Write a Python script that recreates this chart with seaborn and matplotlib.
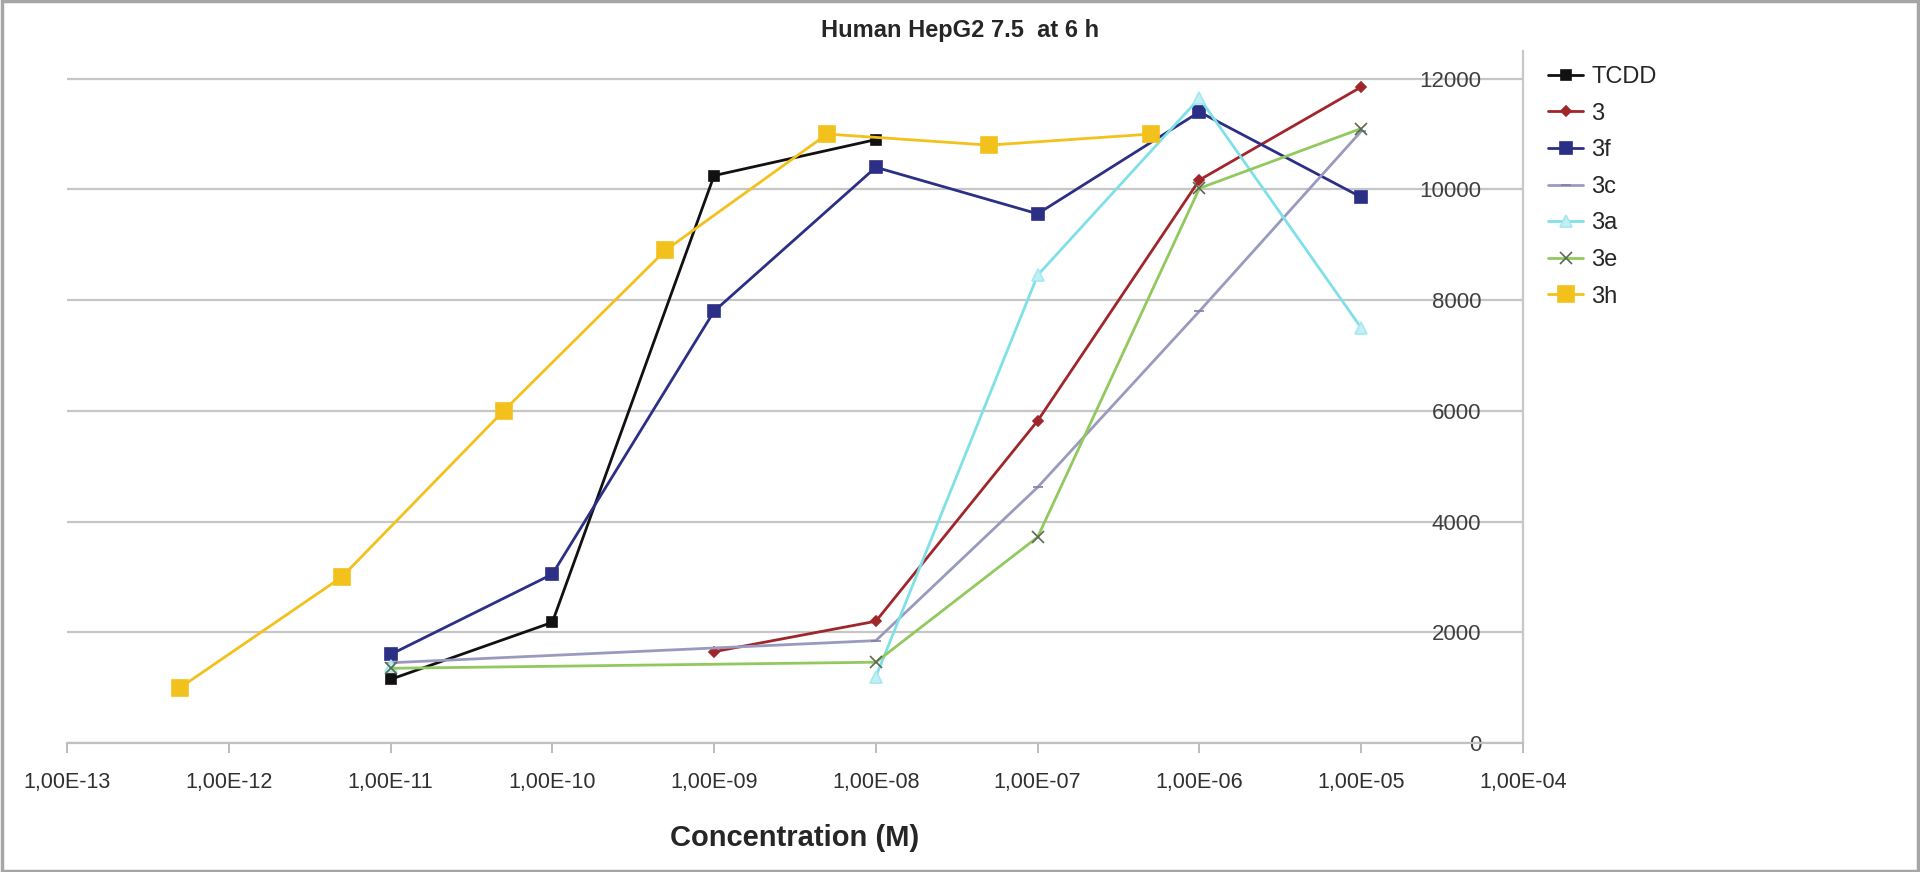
import numpy as np
import pandas as pd
import matplotlib
matplotlib.use("Agg")
import matplotlib.pyplot as plt
import seaborn as sns
from matplotlib.patches import Rectangle

# values
conc_tcdd = [1e-11, 1e-10, 1e-9, 1e-8]
resp_tcdd = [1150, 2180, 10250, 10900]

conc_3 = [1e-9, 1e-8, 1e-7, 1e-6, 1e-5]
resp_3 = [1650, 2200, 5820, 10170, 11850]

conc_3f = [1e-11, 1e-10, 1e-9, 1e-8, 1e-7, 1e-6, 1e-5]
resp_3f = [1600, 3050, 7800, 10400, 9560, 11400, 9860]

conc_3c = [1e-11, 1e-8, 1e-7, 1e-6, 1e-5]
resp_3c = [1450, 1850, 4620, 7800, 11050]

conc_3a = [1e-11, 1e-8, 1e-7, 1e-6, 1e-5]
resp_3a = [1400, 1200, 8450, 11650, 7500]
seg_3a = [0, 1, 1, 1, 1]   # first point is not joined to the rest

conc_3e = [1e-11, 1e-8, 1e-7, 1e-6, 1e-5]
resp_3e = [1350, 1460, 3720, 10020, 11100]

conc_3h = [5e-13, 5e-12, 5e-11, 5e-10, 5e-9, 5e-8, 5e-7]
resp_3h = [1000, 3000, 6000, 8900, 11000, 10800, 11000]

x_ticks = [1e-13, 1e-12, 1e-11, 1e-10, 1e-9, 1e-8, 1e-7, 1e-6, 1e-5, 1e-4]
x_tick_labels = ["1,00E-13", "1,00E-12", "1,00E-11", "1,00E-10", "1,00E-09",
                 "1,00E-08", "1,00E-07", "1,00E-06", "1,00E-05", "1,00E-04"]
y_ticks = [0, 2000, 4000, 6000, 8000, 10000, 12000]

series = [
    ("TCDD", conc_tcdd, resp_tcdd, None),
    ("3", conc_3, resp_3, None),
    ("3f", conc_3f, resp_3f, None),
    ("3c", conc_3c, resp_3c, None),
    ("3a", conc_3a, resp_3a, seg_3a),
    ("3e", conc_3e, resp_3e, None),
    ("3h", conc_3h, resp_3h, None),
]

# color, marker, marker size, face, edge, line width
styles = {
    "TCDD": ("#111111", "s", 7, "#111111", "#111111", 2.0),
    "3": ("#a0262b", "D", 5, "#a0262b", "#a0262b", 2.0),
    "3f": ("#2b2f86", "s", 9, "#2b2f86", "#2b2f86", 2.0),
    "3c": ("#9a9abf", "_", 7, "#8080a8", "#8080a8", 2.0),
    "3a": ("#7fe0e8", "^", 9, "#c0f0f4", "#a5e8ee", 2.0),
    "3e": ("#92c95f", "x", 9, "#5a6a50", "#5a6a50", 2.0),
    "3h": ("#f3c11b", "s", 11, "#f3c11b", "#f3c11b", 2.0),
}

sns.set_style("white")
plt.rcParams["font.family"] = ["Liberation Sans", "DejaVu Sans"]

fig = plt.figure(figsize=(19.2, 8.72), dpi=100)
ax = fig.add_axes([0.0349, 0.1479, 0.7583, 0.7936])

for name, conc, resp, seg in series:
    color, marker, ms, mfc, mec, lw = styles[name]
    df = pd.DataFrame({"conc": conc, "resp": resp,
                       "seg": seg if seg is not None else [0] * len(conc)})
    sns.lineplot(data=df, x="conc", y="resp", units="seg", estimator=None,
                 ax=ax, color=color, marker=marker, markersize=ms,
                 markerfacecolor=mfc, markeredgecolor=mec, markeredgewidth=1.2,
                 linewidth=lw, label=name, legend=False)

ax.set_xscale("log")
ax.set_xlim(1e-13, 1e-4)
ax.set_ylim(0, 12500)
ax.set_xticks(x_ticks)
ax.set_xticklabels(x_tick_labels)
ax.xaxis.set_minor_locator(matplotlib.ticker.NullLocator())
ax.set_yticks(y_ticks)

ax.yaxis.grid(True, color="#c6c6c6", linewidth=1.6)
ax.xaxis.grid(False)
ax.set_axisbelow(True)

for s in ["top", "left"]:
    ax.spines[s].set_visible(False)
ax.spines["bottom"].set_color("#c0c0c0")
ax.spines["bottom"].set_linewidth(1.6)
ax.spines["right"].set_color("#c8c8c8")
ax.spines["right"].set_linewidth(1.6)

ax.tick_params(axis="x", direction="out", length=7, width=1.2, color="#b0b0b0",
               labelsize=15.5, labelcolor="#303030", pad=14, bottom=True)
ax.yaxis.tick_right()
ax.tick_params(axis="y", length=0, labelsize=16, labelcolor="#404040", pad=-30)
plt.setp(ax.get_yticklabels(), ha="right")

ax.set_xlabel("Concentration (M)", fontsize=21, fontweight="bold", labelpad=22)
ax.set_ylabel("")

fig.text(0.5, 0.965, "Human HepG2 7.5  at 6 h", ha="center", va="center",
         fontsize=17, fontweight="bold")

handles, labels = ax.get_legend_handles_labels()
uniq = dict(zip(labels, handles))
fig.legend(list(uniq.values()), list(uniq.keys()), loc="upper left",
           bbox_to_anchor=(0.80, 0.938), frameon=False, fontsize=17,
           handlelength=1.5, handletextpad=0.35, labelspacing=0.62, borderpad=0)

fig.patches.append(Rectangle((0.0012, 0.0015), 0.9976, 0.997, transform=fig.transFigure,
                             fill=False, edgecolor="#a6a6a6", linewidth=2.5))

fig.savefig("out.png", dpi=100)
